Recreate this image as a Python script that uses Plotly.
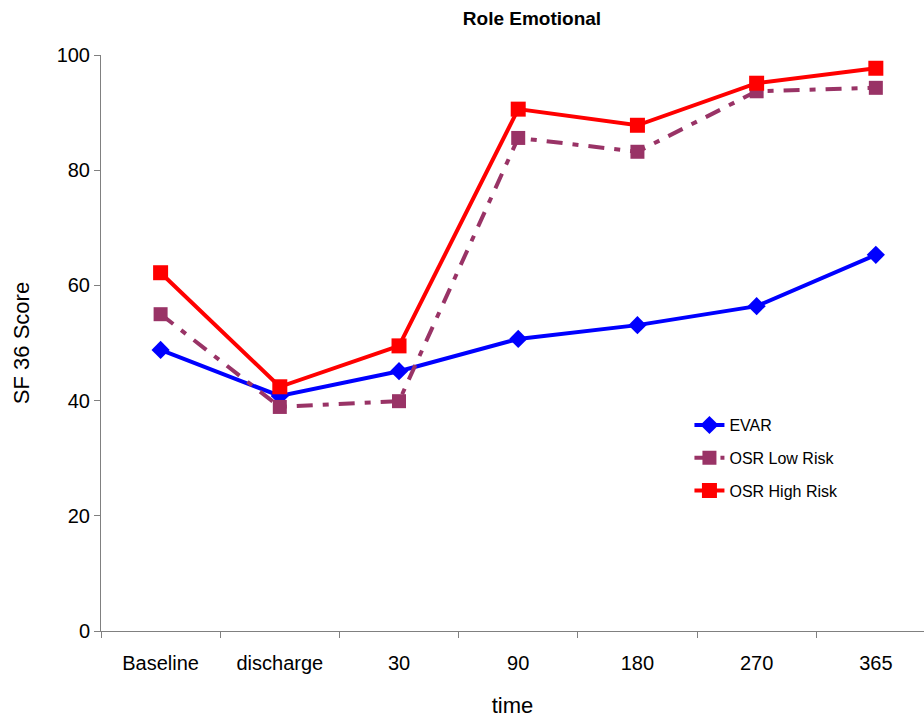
import plotly.graph_objects as go

categories = ["Baseline", "discharge", "30", "90", "180", "270", "365"]
evar = [48.8, 40.8, 45.1, 50.7, 53.1, 56.4, 65.3]
osr_low = [55.0, 38.9, 39.9, 85.6, 83.2, 93.7, 94.3]
osr_high = [62.2, 42.4, 49.5, 90.6, 87.8, 95.1, 97.7]

fig = go.Figure()
fig.add_trace(go.Scatter(x=categories, y=evar, name="EVAR", mode="lines+markers",
                         line=dict(color="#0000FF", width=4),
                         marker=dict(symbol="diamond", size=14, color="#0000FF"),
                         legendgroup="a"))
fig.add_trace(go.Scatter(x=categories, y=osr_low, name="OSR Low Risk", mode="lines+markers",
                         line=dict(color="#993366", width=4, dash="16px,10px,6px,10px"),
                         marker=dict(symbol="square", size=14, color="#993366"),
                         legendgroup="b"))
fig.add_trace(go.Scatter(x=categories, y=osr_high, name="OSR High Risk", mode="lines+markers",
                         line=dict(color="#FF0000", width=4),
                         marker=dict(symbol="square", size=15, color="#FF0000"),
                         legendgroup="c"))

font = "Arial, Liberation Sans, sans-serif"
fig.update_layout(
    width=924, height=722,
    margin=dict(l=101, r=0, t=55, b=91),
    paper_bgcolor="white", plot_bgcolor="white",
    font=dict(family=font, size=20, color="black"),
    title=dict(text="<b>Role Emotional</b>", x=(532 / 924), xanchor="center",
               y=1 - 18 / 722, yanchor="middle", font=dict(size=19)),
    showlegend=True,
    legend=dict(x=0.715, y=0.387, xanchor="left", yanchor="top",
                font=dict(size=16), tracegroupgap=9, bgcolor="rgba(0,0,0,0)"),
    xaxis=dict(type="category", range=[-0.5, 6.404], showgrid=False,
               showline=True, linecolor="#808080", linewidth=1,
               ticks="outside", tickson="boundaries", ticklen=6, tickcolor="#808080",
               ticklabelstandoff=14,
               title=dict(text="time", standoff=24, font=dict(size=22)),
               tickfont=dict(size=20)),
    yaxis=dict(range=[0, 100], dtick=20, showgrid=False, zeroline=False,
               showline=True, linecolor="#808080", linewidth=1,
               ticks="outside", ticklen=6, tickcolor="#808080",
               title=dict(text="SF 36 Score", standoff=20, font=dict(size=22)),
               tickfont=dict(size=20)),
)

fig.write_html("out.html")
